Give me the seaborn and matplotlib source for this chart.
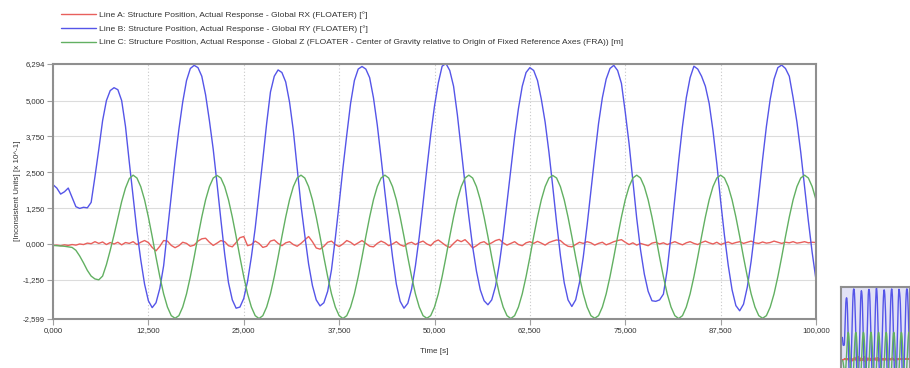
import matplotlib
matplotlib.use("Agg")
import matplotlib.pyplot as plt
import seaborn as sns
import pandas as pd
from matplotlib.ticker import FixedLocator, FuncFormatter

sns.set_theme(style="white")
plt.rcParams['font.family'] = ['Liberation Sans', 'DejaVu Sans']

# ---------------- data ----------------
time_s = [i * 0.5 for i in range(201)]  # sample times 0 .. 100 s

line_a = [  # Global RX [deg]
    -0.05, -0.04, -0.06, -0.03, -0.05, -0.02, -0.04, 0.00, -0.02, 0.03,
    0.01, 0.08, 0.02, 0.07, -0.02, 0.05, 0.00, 0.06, -0.03, 0.05,
    0.02, 0.08, -0.02, 0.06, 0.12, 0.05, -0.12, -0.24, -0.08, 0.12,
    0.10, -0.05, -0.13, -0.06, 0.06, 0.02, -0.08, -0.04, 0.10, 0.18,
    0.20, 0.06, -0.05, 0.03, 0.12, 0.08, -0.06, -0.10, 0.05, 0.22,
    0.26, -0.06, -0.02, 0.10, 0.02, -0.12, -0.08, 0.10, 0.14, 0.02,
    -0.06, 0.04, 0.08, -0.02, -0.08, 0.02, 0.14, 0.26, 0.08, -0.14,
    -0.18, -0.08, 0.06, 0.10, -0.02, -0.09, 0.00, 0.12, 0.06, -0.04,
    0.04, 0.12, 0.02, -0.08, -0.10, 0.02, 0.10, 0.04, -0.06, 0.00,
    0.08, -0.03, -0.08, 0.02, 0.06, -0.02, 0.05, 0.10, 0.00, -0.06,
    0.08, 0.14, 0.04, -0.06, -0.12, 0.02, 0.14, 0.08, 0.15, 0.02,
    -0.14, -0.06, 0.04, 0.08, -0.02, 0.04, 0.12, 0.16, 0.04, -0.04,
    0.02, 0.08, -0.02, -0.06, 0.04, 0.08, 0.02, 0.09, 0.03, -0.04,
    0.05, 0.10, 0.14, 0.12, 0.00, -0.08, -0.10, -0.02, 0.06, 0.02,
    0.08, 0.04, -0.04, 0.02, 0.06, -0.03, 0.02, 0.08, 0.12, 0.15,
    0.06, -0.02, 0.04, -0.04, 0.02, -0.02, -0.06, 0.03, 0.06, 0.00,
    0.04, -0.02, 0.03, 0.08, 0.02, -0.03, 0.04, 0.08, 0.02, -0.02,
    0.05, 0.10, 0.04, 0.00, 0.06, -0.02, 0.03, 0.07, 0.01, 0.05,
    0.08, 0.02, 0.06, 0.10, 0.04, 0.02, 0.07, 0.03, 0.05, 0.10,
    0.06, 0.02, 0.06, 0.04, 0.08, 0.03, 0.05, 0.08, 0.04, 0.06,
    0.05,
]

line_b = [  # Global RY [deg]
    2.07, 1.95, 1.74, 1.82, 1.95, 1.62, 1.30, 1.24, 1.28, 1.26,
    1.45, 2.35, 3.30, 4.30, 5.00, 5.35, 5.45, 5.38, 5.00, 4.10,
    2.85, 1.65, 0.45, -0.55, -1.40, -1.98, -2.22, -2.05, -1.55, -0.76,
    0.45, 1.65, 2.90, 4.00, 4.95, 5.70, 6.12, 6.23, 6.15, 5.85,
    5.20, 4.30, 3.30, 2.10, 0.85, -0.35, -1.35, -1.95, -2.24, -2.20,
    -1.90, -1.30, -0.45, 0.55, 1.75, 2.95, 4.20, 5.30, 5.85, 6.07,
    5.98, 5.65, 4.95, 3.95, 2.65, 1.35, 0.30, -0.70, -1.45, -1.95,
    -2.16, -2.05, -1.65, -0.90, 0.20, 1.40, 2.65, 3.80, 4.90, 5.70,
    6.10, 6.19, 6.10, 5.80, 5.10, 4.15, 3.00, 1.80, 0.65, -0.45,
    -1.40, -2.00, -2.24, -2.07, -1.57, -0.76, 0.25, 1.42, 2.63, 3.80,
    4.81, 5.62, 6.20, 6.294, 6.05, 5.50, 4.50, 3.30, 2.10, 0.95,
    -0.10, -0.95, -1.60, -1.98, -2.12, -1.95, -1.47, -0.69, 0.29, 1.43,
    2.60, 3.74, 4.72, 5.50, 5.98, 6.15, 6.05, 5.70, 5.05, 4.25,
    3.20, 2.00, 0.75, -0.40, -1.35, -1.95, -2.18, -1.95, -1.35, -0.45,
    0.65, 1.85, 3.05, 4.20, 5.10, 5.75, 6.12, 6.23, 6.05, 5.60,
    4.60, 3.50, 2.20, 0.90, -0.20, -1.05, -1.65, -1.98, -2.00, -1.95,
    -1.75, -0.90, 0.30, 1.60, 2.90, 4.10, 5.10, 5.80, 6.20, 6.10,
    5.85, 5.50, 4.90, 3.95, 2.80, 1.50, 0.30, -0.75, -1.60, -2.15,
    -2.33, -2.10, -1.50, -0.60, 0.50, 1.70, 2.95, 4.10, 5.05, 5.75,
    6.15, 6.24, 6.12, 5.85, 5.10, 4.25, 3.20, 2.00, 0.80, -0.30,
    -1.25,
]

line_c = [  # Global Z [m]
    -0.05, -0.06, -0.07, -0.08, -0.10, -0.12, -0.22, -0.42, -0.66, -0.92,
    -1.12, -1.22, -1.25, -1.12, -0.72, -0.22, 0.32, 0.90, 1.48, 1.95,
    2.28, 2.40, 2.30, 2.00, 1.54, 0.94, 0.26, -0.46, -1.14, -1.74,
    -2.20, -2.50, -2.59, -2.50, -2.20, -1.74, -1.14, -0.46, 0.26, 0.94,
    1.54, 2.00, 2.30, 2.39, 2.30, 2.00, 1.54, 0.94, 0.26, -0.46,
    -1.14, -1.74, -2.20, -2.50, -2.60, -2.50, -2.20, -1.74, -1.14, -0.46,
    0.26, 0.94, 1.54, 2.00, 2.30, 2.40, 2.30, 2.00, 1.54, 0.94,
    0.26, -0.46, -1.14, -1.74, -2.20, -2.50, -2.599, -2.50, -2.20, -1.74,
    -1.14, -0.46, 0.26, 0.94, 1.54, 2.00, 2.30, 2.40, 2.30, 2.00,
    1.54, 0.94, 0.26, -0.46, -1.14, -1.74, -2.20, -2.50, -2.59, -2.50,
    -2.20, -1.74, -1.14, -0.46, 0.26, 0.94, 1.54, 2.00, 2.30, 2.40,
    2.30, 2.00, 1.54, 0.94, 0.26, -0.46, -1.14, -1.74, -2.20, -2.50,
    -2.60, -2.50, -2.20, -1.74, -1.14, -0.46, 0.26, 0.94, 1.54, 2.00,
    2.30, 2.39, 2.30, 2.00, 1.54, 0.94, 0.26, -0.46, -1.14, -1.74,
    -2.20, -2.50, -2.59, -2.50, -2.20, -1.74, -1.14, -0.46, 0.26, 0.94,
    1.54, 2.00, 2.30, 2.40, 2.30, 2.00, 1.54, 0.94, 0.26, -0.46,
    -1.14, -1.74, -2.20, -2.50, -2.60, -2.50, -2.20, -1.74, -1.14, -0.46,
    0.26, 0.94, 1.54, 2.00, 2.30, 2.40, 2.30, 2.00, 1.54, 0.94,
    0.26, -0.46, -1.14, -1.74, -2.20, -2.50, -2.59, -2.50, -2.20, -1.74,
    -1.14, -0.46, 0.26, 0.94, 1.54, 2.00, 2.30, 2.40, 2.30, 2.00,
    1.54,
]

series_labels = [
    "Line A: Structure Position, Actual Response - Global RX (FLOATER) [°]",
    "Line B: Structure Position, Actual Response - Global RY (FLOATER) [°]",
    "Line C: Structure Position, Actual Response - Global Z (FLOATER - Center of Gravity relative to Origin of Fixed Reference Axes (FRA)) [m]",
]
series_colors = ["#e8605c", "#5555e8", "#62b062"]
x_ticks = [0, 12.5, 25, 37.5, 50, 62.5, 75, 87.5, 100]
y_ticks = [-2.599, -1.25, 0, 1.25, 2.5, 3.75, 5.0, 6.294]
x_label = "Time [s]"
y_label = "[Inconsistent Units] [x 10^-1]"

# ---------------- build long table ----------------
frames = []
for lab, vals in zip(series_labels, [line_a, line_b, line_c]):
    frames.append(pd.DataFrame({"t": time_s, "v": vals, "series": lab}))
df = pd.concat(frames, ignore_index=True)
palette = dict(zip(series_labels, series_colors))

W, H = 910, 368
fig = plt.figure(figsize=(W / 100, H / 100), dpi=100)
fig.patch.set_facecolor("white")

left, right, top, bottom = 53, 816, 63.5, 318.5
ax = fig.add_axes([left / W, 1 - bottom / H, (right - left) / W, (bottom - top) / H])

sns.lineplot(data=df, x="t", y="v", hue="series", palette=palette,
             estimator=None, sort=False, linewidth=1.0, ax=ax, legend=True)

handles, labels = ax.get_legend_handles_labels()
if ax.get_legend() is not None:
    ax.get_legend().remove()
leg = fig.legend(handles, labels, loc="upper left",
                 bbox_to_anchor=(61 / W, 1 - 11.5 / H), frameon=False,
                 fontsize=6.1, handlelength=4.1, labelspacing=0.66,
                 handletextpad=0.4, borderaxespad=0, borderpad=0)
for txt in leg.get_texts():
    txt.set_color("#333333")

ax.set_xlim(0, 100)
ax.set_ylim(-2.599, 6.294)

def comma_fmt(v, pos=None):
    return f"{v:.3f}".replace(".", ",")

ax.xaxis.set_major_locator(FixedLocator(x_ticks))
ax.yaxis.set_major_locator(FixedLocator(y_ticks))
ax.xaxis.set_major_formatter(FuncFormatter(comma_fmt))
ax.yaxis.set_major_formatter(FuncFormatter(comma_fmt))

ax.set_axisbelow(True)
ax.yaxis.grid(True, color="#dcdcdc", linewidth=0.8)
ax.xaxis.grid(True, color="#c8c8c8", linewidth=0.8, linestyle=(0, (1, 2)))

for sp in ax.spines.values():
    sp.set_color("#8f8f8f")
    sp.set_linewidth(1.5)

ax.tick_params(axis="both", length=4, width=0.8, color="#a0a0a0",
               labelsize=5.6, labelcolor="#333333", pad=2,
               bottom=True, left=True)
ax.set_xlabel(x_label, fontsize=5.8, color="#333333", labelpad=10)
ax.set_ylabel(y_label, fontsize=5.8, color="#333333", labelpad=1)

# ---------------- overview thumbnail ----------------
ax2 = fig.add_axes([841 / W, -0.06, 69 / W, (H - 287) / H + 0.06])
sns.lineplot(data=df, x="t", y="v", hue="series", palette=palette,
             estimator=None, sort=False, linewidth=1.0, ax=ax2, legend=False)
ax2.set_xlim(0, 100)
ax2.set_ylim(-2.7, 6.4)
ax2.set_facecolor("#e2e2f6")
ax2.set_xticks([])
ax2.set_yticks([])
ax2.set_xlabel("")
ax2.set_ylabel("")
for sp in ax2.spines.values():
    sp.set_color("#8f8f8f")
    sp.set_linewidth(1.5)

fig.savefig("out.png", dpi=100, facecolor="white")
